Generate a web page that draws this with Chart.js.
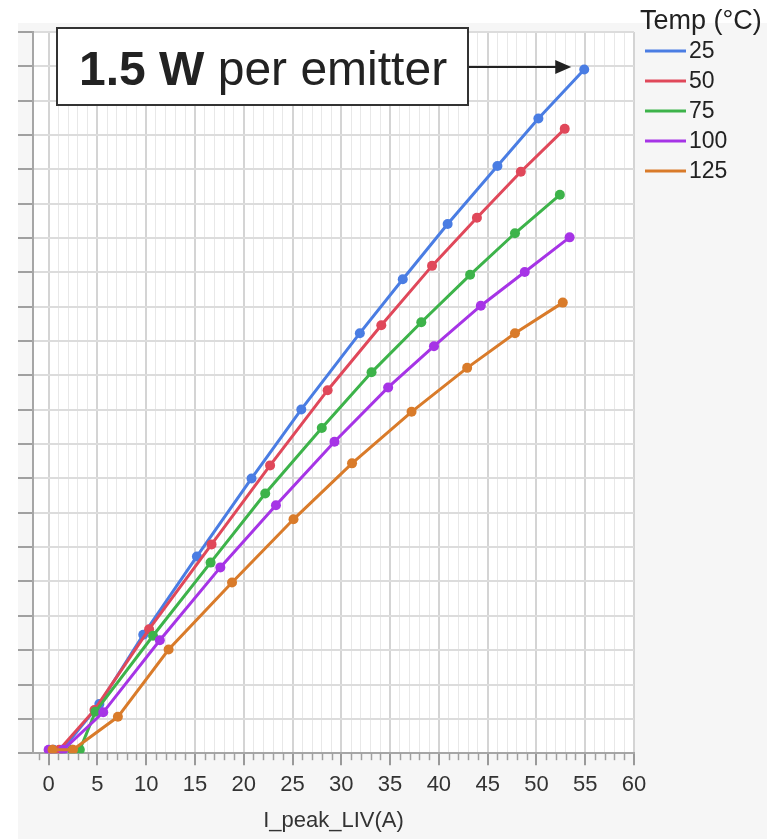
<!DOCTYPE html>
<html lang="en">
<head>
<meta charset="utf-8" />
<title>LIV</title>
<style>
  html, body { margin: 0; padding: 0; background: #fff; }
  canvas { display: block; }
</style>
</head>
<body>
<canvas id="liv" width="767" height="839"></canvas>
<script src="https://cdn.jsdelivr.net/npm/chart.js@4.4.1/dist/chart.umd.min.js"></script>
<script>
// legend labels (Temp in °C) and line colours
const temps = ["25", "50", "75", "100", "125"];
const colors = ["#4a7de3", "#e0485a", "#3db34a", "#a634e6", "#d97b2a"];

// peak current (A) and power for each temperature
const current25 = [0.5, 1.4, 5.2, 9.7, 15.2, 20.8, 25.9, 31.9, 36.3, 40.9, 46.0, 50.2, 54.9];
const power25 = [0.1, 0.1, 1.43, 3.45, 5.73, 8.0, 10.01, 12.23, 13.8, 15.41, 17.1, 18.48, 19.91];

const current50 = [0.4, 1.1, 4.7, 10.3, 16.7, 22.7, 28.6, 34.1, 39.3, 43.9, 48.4, 52.9];
const power50 = [0.1, 0.1, 1.26, 3.61, 6.08, 8.38, 10.57, 12.46, 14.19, 15.59, 16.93, 18.18];

const current75 = [2.4, 3.2, 4.8, 10.7, 16.6, 22.2, 28.0, 33.1, 38.2, 43.2, 47.8, 52.4];
const power75 = [0.1, 0.1, 1.21, 3.42, 5.55, 7.56, 9.47, 11.09, 12.55, 13.93, 15.14, 16.26];

const current100 = [0.0, 1.5, 5.6, 11.4, 17.6, 23.3, 29.3, 34.8, 39.5, 44.3, 48.8, 53.4];
const power100 = [0.1, 0.1, 1.19, 3.29, 5.41, 7.22, 9.07, 10.65, 11.85, 13.03, 14.01, 15.02];

const current125 = [0.4, 2.5, 7.1, 12.3, 18.8, 25.1, 31.1, 37.2, 42.9, 47.8, 52.7];
const power125 = [0.1, 0.1, 1.06, 3.02, 4.97, 6.81, 8.44, 9.94, 11.22, 12.23, 13.12];

const xTicks = [0, 5, 10, 15, 20, 25, 30, 35, 40, 45, 50, 55, 60];

const currents = [current25, current50, current75, current100, current125];
const powers = [power25, power50, power75, power100, power125];

Chart.defaults.font.family = "'Liberation Sans', Arial, sans-serif";

const bgPlugin = {
    id: "bg",
    beforeDraw(chart) {
        const ctx = chart.ctx, a = chart.chartArea;
        ctx.save();
        ctx.fillStyle = "#ffffff";
        ctx.fillRect(0, 0, chart.width, chart.height);
        ctx.fillStyle = "#f6f6f6";
        ctx.fillRect(18, 23, chart.width - 18, chart.height - 23);
        ctx.fillStyle = "#ffffff";
        ctx.fillRect(a.left, a.top, a.right - a.left, a.bottom - a.top);
        ctx.restore();
    }
};

const overlayPlugin = {
    id: "overlay",
    afterDraw(chart) {
        const ctx = chart.ctx, a = chart.chartArea, xs = chart.scales.x;
        ctx.save();

        // minor ticks on the current axis
        ctx.strokeStyle = "#a0a0a0";
        ctx.lineWidth = 1.5;
        for (let v = -1; v <= 60; v++) {
            if (v % 5 === 0) continue;
            const px = Math.round(xs.getPixelForValue(v)) + 0.5;
            ctx.beginPath();
            ctx.moveTo(px, a.bottom);
            ctx.lineTo(px, a.bottom + 7);
            ctx.stroke();
        }

        // legend
        ctx.fillStyle = "#222";
        ctx.textBaseline = "alphabetic";
        ctx.textAlign = "left";
        ctx.font = "27px 'Liberation Sans', Arial, sans-serif";
        ctx.fillText("Temp (°C)", 640, 29);
        ctx.font = "23px 'Liberation Sans', Arial, sans-serif";
        ctx.textBaseline = "middle";
        chart.data.datasets.forEach((ds, i) => {
            const y = 51 + i * 30;
            ctx.strokeStyle = ds.borderColor;
            ctx.lineWidth = 3;
            ctx.beginPath();
            ctx.moveTo(645, y);
            ctx.lineTo(686, y);
            ctx.stroke();
            ctx.fillStyle = "#222";
            ctx.fillText(ds.label, 689, y + 1);
        });

        // annotation box
        ctx.fillStyle = "#ffffff";
        ctx.fillRect(57, 28, 411, 77);
        ctx.strokeStyle = "#333";
        ctx.lineWidth = 2;
        ctx.strokeRect(57, 28, 411, 77);
        ctx.fillStyle = "#222";
        ctx.textBaseline = "alphabetic";
        ctx.font = "bold 48px 'Liberation Sans', Arial, sans-serif";
        ctx.fillText("1.5 W", 79, 85);
        const w = ctx.measureText("1.5 W").width;
        ctx.font = "48px 'Liberation Sans', Arial, sans-serif";
        ctx.fillText(" per emitter", 79 + w, 85);

        // arrow to the last 25 °C point
        const pts = chart.getDatasetMeta(0).data;
        const last = pts[pts.length - 1];
        const tipX = last.x - 13, ay = 67;
        ctx.strokeStyle = "#222";
        ctx.lineWidth = 2;
        ctx.beginPath();
        ctx.moveTo(469, ay);
        ctx.lineTo(tipX - 12, ay);
        ctx.stroke();
        ctx.beginPath();
        ctx.moveTo(tipX, ay);
        ctx.lineTo(tipX - 16, ay - 7);
        ctx.lineTo(tipX - 16, ay + 7);
        ctx.closePath();
        ctx.fill();

        ctx.restore();
    }
};

new Chart(document.getElementById("liv"), {
    type: "line",
    data: {
        datasets: temps.map((t, i) => ({
            label: t,
            data: currents[i].map((c, j) => ({ x: c, y: powers[i][j] })),
            borderColor: colors[i],
            backgroundColor: colors[i],
            borderWidth: 3,
            pointRadius: 5,
            pointHoverRadius: 5,
            pointBorderWidth: 0,
            tension: 0,
            order: temps.length - i
        }))
    },
    options: {
        responsive: false,
        animation: false,
        layout: { padding: { left: 18, top: 32, right: 133, bottom: 0 } },
        plugins: {
            legend: { display: false },
            tooltip: { enabled: false }
        },
        scales: {
            x: {
                type: "linear",
                min: -1.6,
                max: 60,
                afterBuildTicks: (s) => {
                    const t = [];
                    for (let v = 0; v <= 60; v++) t.push({ value: v });
                    s.ticks = t;
                },
                ticks: {
                    autoSkip: false,
                    maxRotation: 0,
                    padding: 7,
                    color: "#333",
                    font: { size: 22 },
                    callback: (v) => (xTicks.includes(v) ? String(v) : "")
                },
                grid: {
                    color: (c) => (c.tick && c.tick.value % 5 === 0 ? "#d4d4d4" : "#e8e8e8"),
                    lineWidth: (c) => (c.tick && c.tick.value % 5 === 0 ? 2 : 1),
                    tickLength: 12,
                    tickWidth: 2,
                    tickColor: (c) => (c.tick && c.tick.value % 5 === 0 ? "#9a9a9a" : "rgba(0,0,0,0)")
                },
                border: { color: "#a6a6a6", width: 2 },
                title: {
                    display: true,
                    text: "I_peak_LIV(A)",
                    color: "#333",
                    font: { size: 22 },
                    padding: { top: 2, bottom: 5 }
                }
            },
            y: {
                min: 0,
                max: 21,
                ticks: { display: false, stepSize: 1 },
                grid: { color: "#dcdcdc", lineWidth: 2, tickLength: 15, tickWidth: 2, tickColor: "#a0a0a0" },
                border: { color: "#a6a6a6", width: 2 }
            }
        }
    },
    plugins: [bgPlugin, overlayPlugin]
});
</script>
</body>
</html>
